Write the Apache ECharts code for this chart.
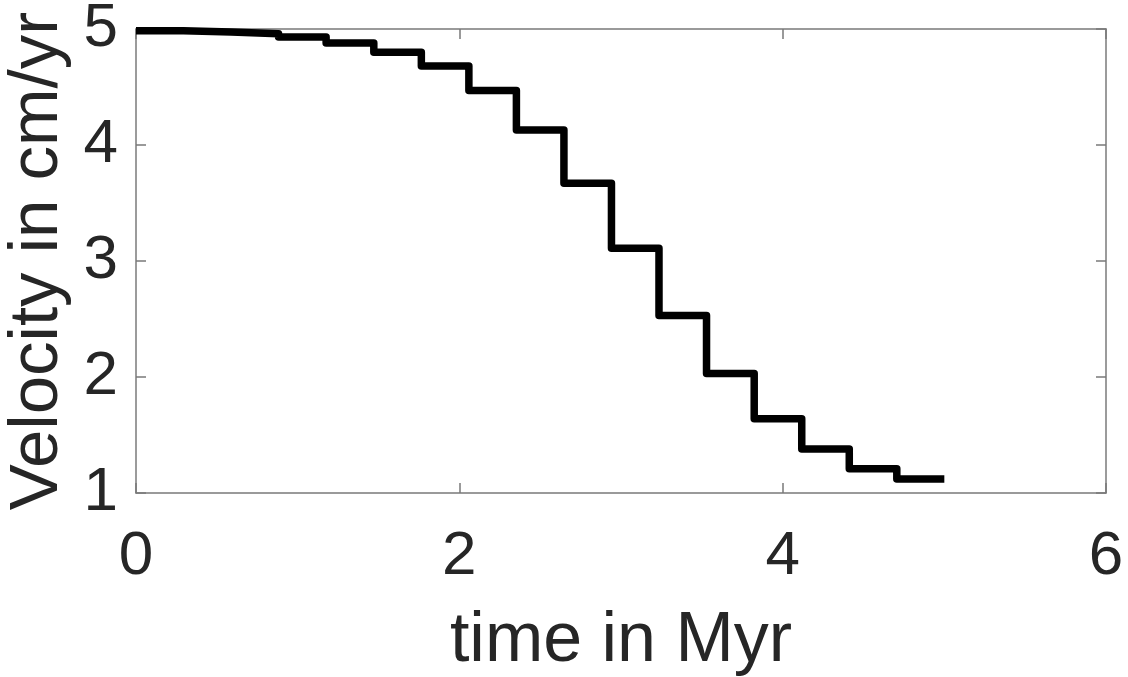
<!DOCTYPE html>
<html>
<head>
<meta charset="utf-8">
<title>Velocity vs time</title>
<script src="https://cdn.jsdelivr.net/npm/echarts@6/dist/echarts.min.js"></script>
<style>
  html, body { margin: 0; padding: 0; background: #ffffff; }
  #chart { width: 1128px; height: 677px; }
</style>
</head>
<body>
<div id="chart"></div>
<script>
// Start time of each constant-velocity interval (Myr); last entry closes the final interval
var timeMyr = [0, 0.294, 0.588, 0.882, 1.176, 1.471, 1.765, 2.059, 2.353,
               2.647, 2.941, 3.235, 3.529, 3.824, 4.118, 4.412, 4.706, 5.0];
// Plate velocity over each interval (cm/yr); last value repeats to close the step
var velocity = [4.985, 4.974, 4.96, 4.93, 4.88, 4.80, 4.68, 4.47, 4.13,
                3.67, 3.11, 2.53, 2.03, 1.64, 1.38, 1.21, 1.12, 1.12];

var xTicks = { min: 0, max: 6, interval: 2 };
var yTicks = { min: 1, max: 5, interval: 1 };

var FONT = '"Liberation Sans", Arial, sans-serif';
var TEXT = '#262626';
var FRAME = '#7a7a7a';

var points = timeMyr.map(function (t, i) { return [t, velocity[i]]; });

function frameAxis(extra) {
  var base = {
    axisLine: { show: true, onZero: false, lineStyle: { color: FRAME, width: 1.5 } },
    axisTick: { show: true, inside: true, length: 10, lineStyle: { color: FRAME, width: 1.5 } },
    splitLine: { show: false }
  };
  for (var k in extra) base[k] = extra[k];
  return base;
}

var chart = echarts.init(document.getElementById('chart'), null, { renderer: 'canvas' });
chart.setOption({
  animation: false,
  backgroundColor: '#ffffff',
  grid: {
    left: 136, right: 22, top: 29, bottom: 184,
    containLabel: false,
    outerBoundsMode: 'none'
  },
  xAxis: [
    frameAxis({
      type: 'value', position: 'bottom',
      min: xTicks.min, max: xTicks.max, interval: xTicks.interval,
      name: 'time in Myr', nameLocation: 'middle', nameGap: 114,
      nameTextStyle: { fontFamily: FONT, fontSize: 70, color: TEXT },
      axisLabel: { margin: 33, fontFamily: FONT, fontSize: 62, color: TEXT }
    }),
    frameAxis({
      type: 'value', position: 'top',
      min: xTicks.min, max: xTicks.max, interval: xTicks.interval,
      axisLabel: { show: false }
    })
  ],
  yAxis: [
    frameAxis({
      type: 'value', position: 'left',
      min: yTicks.min, max: yTicks.max, interval: yTicks.interval,
      name: 'Velocity in cm/yr', nameLocation: 'middle', nameGap: 64,
      nameTextStyle: { fontFamily: FONT, fontSize: 69, color: TEXT },
      axisLabel: { margin: 18, fontFamily: FONT, fontSize: 62, color: TEXT }
    }),
    frameAxis({
      type: 'value', position: 'right',
      min: yTicks.min, max: yTicks.max, interval: yTicks.interval,
      axisLabel: { show: false }
    })
  ],
  series: [{
    type: 'line',
    step: 'end',
    data: points,
    clip: false,
    symbol: 'none',
    lineStyle: { color: '#000000', width: 7.5, join: 'round', cap: 'butt' }
  }]
});
</script>
</body>
</html>
